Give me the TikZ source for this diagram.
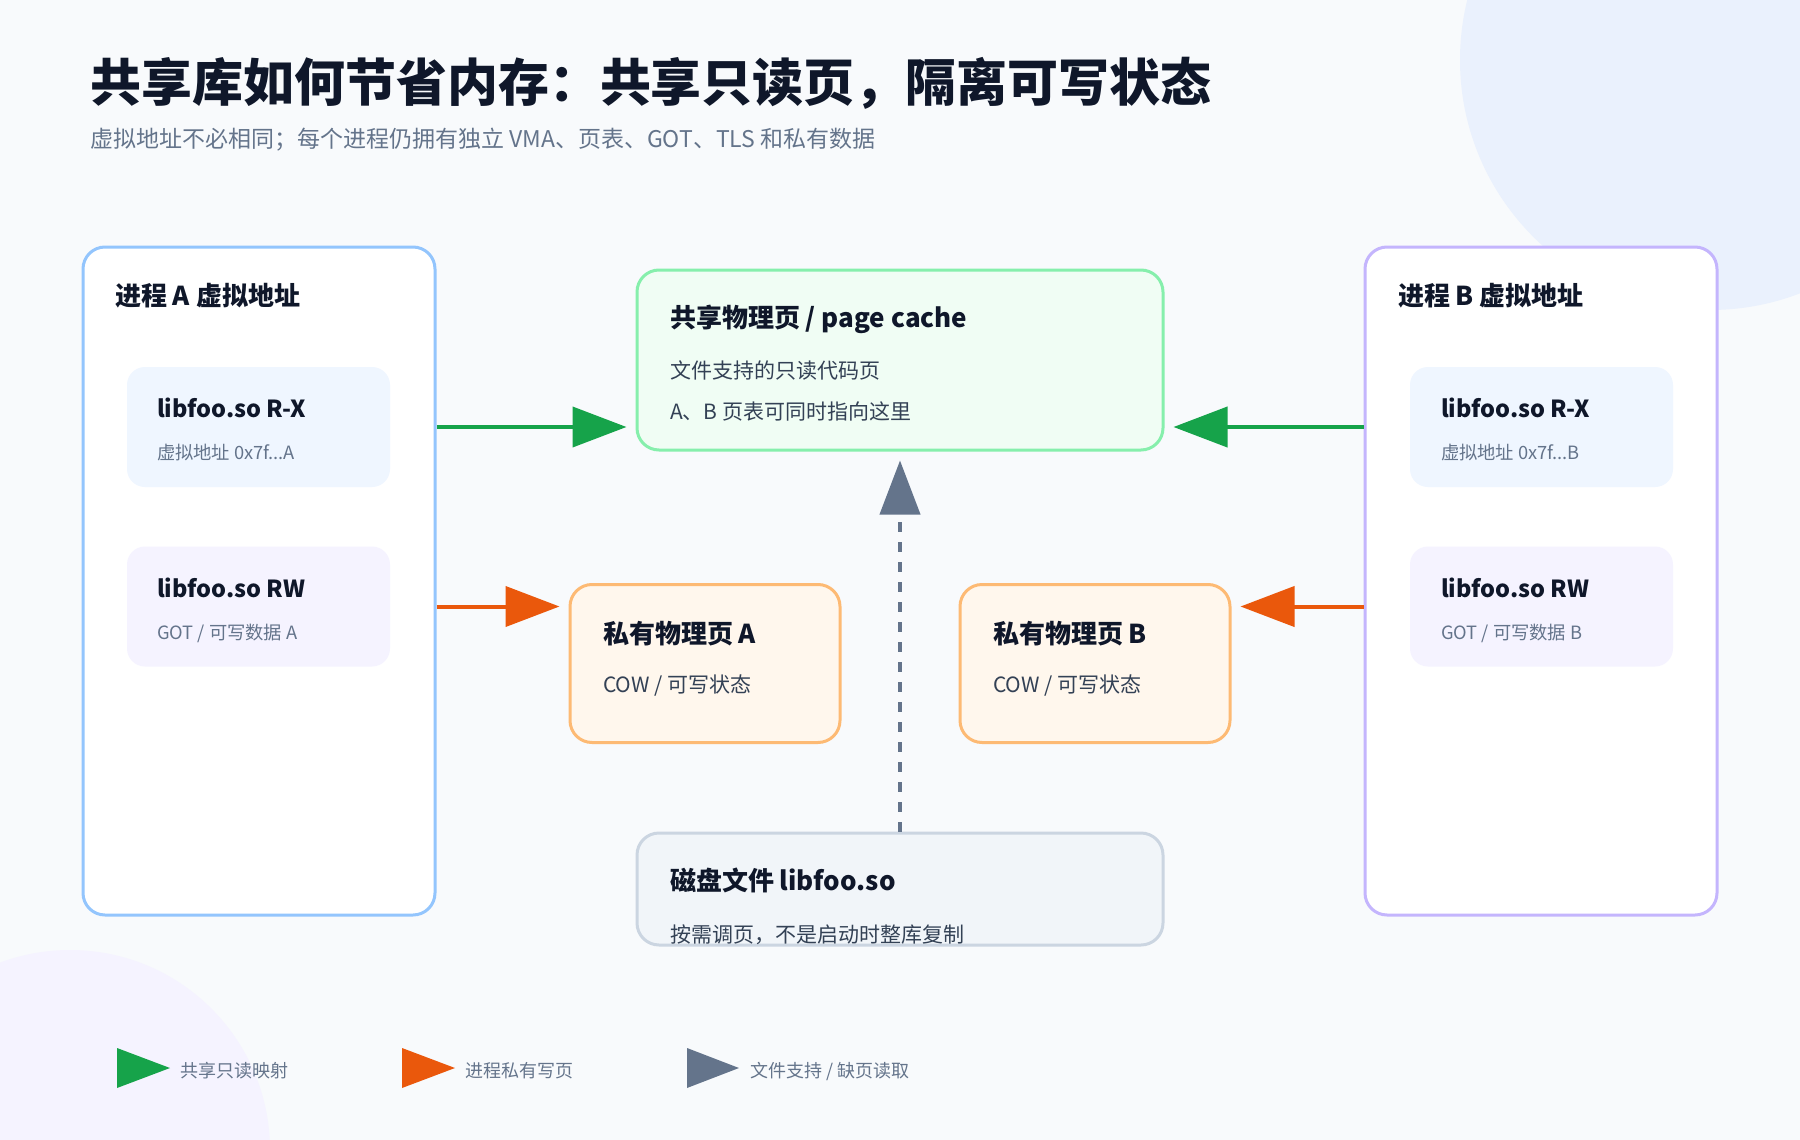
\documentclass[tikz,border=0pt]{standalone}
\usepackage{fontspec}
\setmainfont{Noto Sans CJK SC}
\usetikzlibrary{arrows.meta}
\definecolor{bgc}{HTML}{F8FAFC}
\definecolor{circblue}{HTML}{EAF1FD}
\definecolor{circpurple}{HTML}{F5F3FF}
\definecolor{ink}{HTML}{0F172A}
\definecolor{muted}{HTML}{64748B}
\definecolor{body}{HTML}{334155}
\definecolor{blueline}{HTML}{93C5FD}
\definecolor{purpleline}{HTML}{C4B5FD}
\definecolor{rxfill}{HTML}{EFF6FF}
\definecolor{rwfill}{HTML}{F5F3FF}
\definecolor{greenfill}{HTML}{F0FDF4}
\definecolor{greenline}{HTML}{86EFAC}
\definecolor{orangefill}{HTML}{FFF7ED}
\definecolor{orangeline}{HTML}{FDBA74}
\definecolor{diskfill}{HTML}{F1F5F9}
\definecolor{diskline}{HTML}{CBD5E1}
\definecolor{garr}{HTML}{16A34A}
\definecolor{oarr}{HTML}{EA580C}
\definecolor{sarr}{HTML}{64748B}
\begin{document}
\begin{tikzpicture}[x=1pt,y=-1pt,
  panel/.style={draw, rectangle, rounded corners=22pt, line width=3pt, fill=white,
    minimum width=352pt, minimum height=668pt, inner sep=0pt},
  inner/.style={rectangle, rounded corners=18pt, minimum width=263pt, minimum height=120pt, inner sep=0pt},
  card/.style={draw, rectangle, rounded corners=22pt, line width=3pt, inner sep=0pt},
  txt/.style={anchor=base west, inner sep=0pt, outer sep=0pt},
  ttl/.style={txt, text=ink, font=\bfseries\fontsize{26}{31}\selectfont},
  itl/.style={txt, text=ink, font=\bfseries\fontsize{23.5}{28}\selectfont},
  isub/.style={txt, text=muted, font=\fontsize{18.3}{22}\selectfont},
  csub/.style={txt, text=body, font=\fontsize{21}{25}\selectfont},
  lgd/.style={txt, text=muted, font=\fontsize{18}{22}\selectfont},
  conn/.style={line width=4pt, shorten >=9pt, -{Triangle[length=54pt,width=40pt]}},
]
\useasboundingbox (0,0) rectangle (1800,1140);
\fill[bgc] (0,0) rectangle (1800,1140);
\begin{scope}
  \clip (0,0) rectangle (1800,1140);
  \fill[circblue] (1710,60) circle (250pt);
  \fill[circpurple] (70,1150) circle (200pt);
\end{scope}

% title
\node[txt, text=ink, font=\bfseries\fontsize{51}{61}\selectfont] (title) at (90,101) {共享库如何节省内存：共享只读页，隔离可写状态};
\node[txt, text=muted, font=\fontsize{23}{27}\selectfont] (subtitle) at (90,147) {虚拟地址不必相同；每个进程仍拥有独立 VMA、页表、GOT、TLS 和私有数据};

% panels
\node[panel, draw=blueline] (pa) at (259,581) {};
\node[panel, draw=purpleline] (pb) at (1541,581) {};
\node[ttl] (pat) at (115,305) {进程 A 虚拟地址};
\node[ttl] (pbt) at (1398,305) {进程 B 虚拟地址};

\node[inner, fill=rxfill] (rxa) at (258.5,427) {};
\node[inner, fill=rwfill] (rwa) at (258.5,606.5) {};
\node[inner, fill=rxfill] (rxb) at (1541.5,427) {};
\node[inner, fill=rwfill] (rwb) at (1541.5,606.5) {};

\node[itl] (rxat) at (157,417) {libfoo.so R-X};
\node[isub] (rxas) at (157,459) {虚拟地址 0x7f...A};
\node[itl] (rwat) at (157,597) {libfoo.so RW};
\node[isub] (rwas) at (157,639) {GOT / 可写数据 A};
\node[itl] (rxbt) at (1441,417) {libfoo.so R-X};
\node[isub] (rxbs) at (1441,459) {虚拟地址 0x7f...B};
\node[itl] (rwbt) at (1441,597) {libfoo.so RW};
\node[isub] (rwbs) at (1441,639) {GOT / 可写数据 B};

% shared page cache
\node[card, draw=greenline, fill=greenfill, minimum width=526pt, minimum height=180pt] (pc) at (900,360) {};
\node[ttl] (pct) at (670,327) {共享物理页 / page cache};
\node[csub] (pcs1) at (670,378) {文件支持的只读代码页};
\node[csub] (pcs2) at (670,419) {A、B 页表可同时指向这里};

% private pages
\node[card, draw=orangeline, fill=orangefill, minimum width=270pt, minimum height=158pt] (ppa) at (705,663.5) {};
\node[card, draw=orangeline, fill=orangefill, minimum width=270pt, minimum height=158pt] (ppb) at (1095,663.5) {};
\node[ttl] (ppat) at (603,643) {私有物理页 A};
\node[csub] (ppas) at (603,692) {COW / 可写状态};
\node[ttl] (ppbt) at (993,643) {私有物理页 B};
\node[csub] (ppbs) at (993,692) {COW / 可写状态};

% disk file
\node[card, draw=diskline, fill=diskfill, minimum width=526pt, minimum height=112pt] (disk) at (900,889) {};
\node[ttl] (diskt) at (670,890) {磁盘文件 libfoo.so};
\node[csub] (disks) at (670,942) {按需调页，不是启动时整库复制};

% connectors
\draw[conn, garr] (pa.east |- rxa.center) -- (pc.west |- rxa.center);
\draw[conn, garr] (pb.west |- rxb.center) -- (pc.east |- rxb.center);
\draw[conn, oarr] (pa.east |- rwa.center) -- (ppa.west |- rwa.center);
\draw[conn, oarr] (pb.west |- rwb.center) -- (ppb.east |- rwb.center);
\draw[line width=4pt, sarr, dash pattern=on 10pt off 10pt, shorten >=9pt,
  -{Triangle[length=54pt,width=40pt]}] (disk.north) -- (pc.south);

% legend
\fill[garr] (117,1048) -- (170,1068) -- (117,1088) -- cycle;
\node[lgd] (lg1) at (180,1077) {共享只读映射};
\fill[oarr] (402,1048) -- (455,1068) -- (402,1088) -- cycle;
\node[lgd] (lg2) at (465,1077) {进程私有写页};
\fill[sarr] (687,1048) -- (739,1068) -- (687,1088) -- cycle;
\node[lgd] (lg3) at (750,1077) {文件支持 / 缺页读取};
\end{tikzpicture}
\end{document}
